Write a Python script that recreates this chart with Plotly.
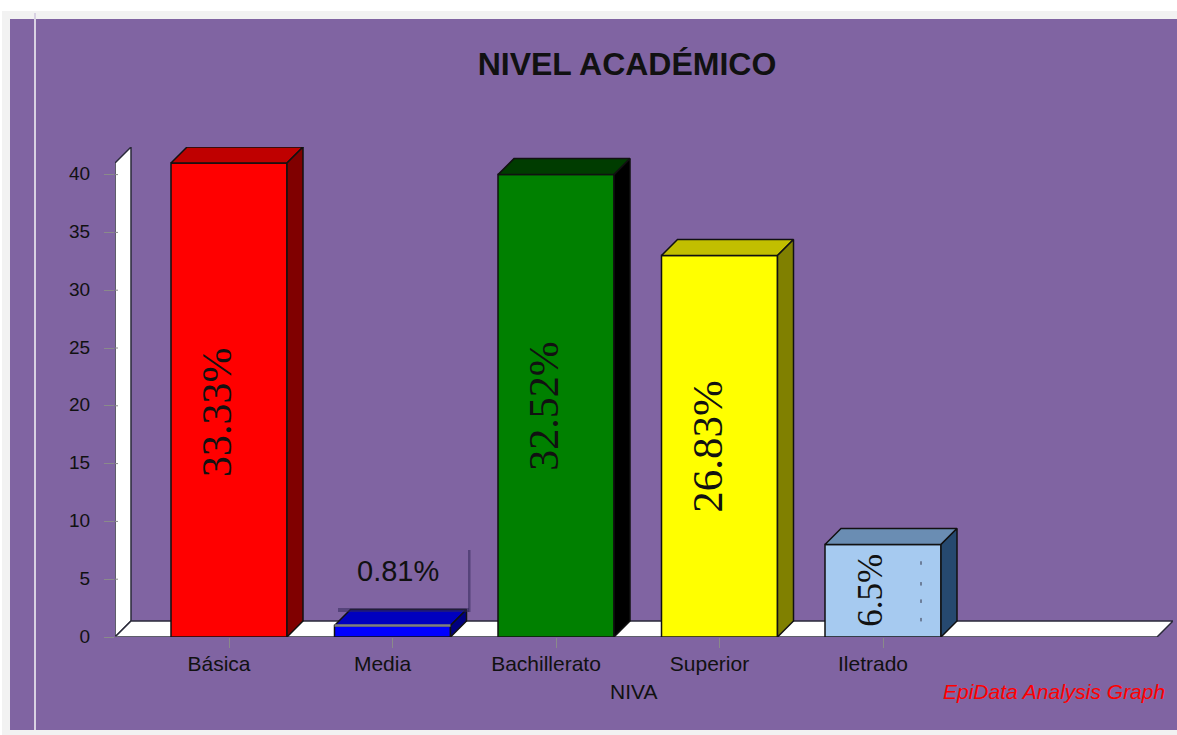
import plotly.graph_objects as go

# ---- data ----
categories = ["Básica", "Media", "Bachillerato", "Superior", "Iletrado"]
counts = [41, 1, 40, 33, 8]
percent_labels = ["33.33%", "0.81%", "32.52%", "26.83%", "6.5%"]
label_sizes = [42, 29, 42, 43, 35]
front_colors = ["#ff0000", "#0000ff", "#008000", "#ffff00", "#a6caf0"]
top_colors = ["#bf0000", "#0000bf", "#003c00", "#c2bf00", "#6a8db3"]
side_colors = ["#800000", "#000080", "#000000", "#808000", "#26496f"]
y_ticks = [0, 5, 10, 15, 20, 25, 30, 35, 40]
stray_mark_levels = [1.5, 3.1, 4.6, 6.4]

# ---- page geometry (pixels) ----
W, H = 1177, 735
L, R, T, B = 115, 1173, 147, 637       # plot area
STEP = 163.5                           # px per category
X0_PX = 229                            # px of first category
UNIT = 11.56                           # px per y unit
DEPTH = 16                             # px of 3-D depth
BAR_W = 116 / STEP
DX, DY = DEPTH / STEP, DEPTH / UNIT
XMIN, XMAX = (L - X0_PX) / STEP, (R - X0_PX) / STEP
YMAX = (B - T) / UNIT
WALL_TOP = 41
LINE = dict(color="#111111", width=1.5)
xs = list(range(len(categories)))


def px(x):
    return x / (R - L) - L / (R - L)


def py(y):
    return (B - y) / (B - T)


def rect(x0, y0, x1, y1, color):
    return dict(type="rect", xref="paper", yref="paper", layer="below",
                x0=px(x0), x1=px(x1), y0=py(y0), y1=py(y1),
                fillcolor=color, line_width=0)


def poly(points):
    return "M" + " L".join(f"{a},{b}" for a, b in points) + " Z"


shapes = [
    rect(2, 11, W, H, "#f2f2f2"),
    rect(10, 19, W, 730, "#8064a2"),
    rect(34, 13, 36, 730, "#d9d2e3"),
]
# white back wall strip and floor of the 3-D box
shapes.append(dict(type="path", xref="x", yref="y", layer="below",
                   path=poly([(XMIN, 0), (XMIN, WALL_TOP), (XMIN + DX, WALL_TOP + DY), (XMIN + DX, DY)]),
                   fillcolor="white", line=dict(color="#2a2a3a", width=1.5)))
shapes.append(dict(type="path", xref="x", yref="y", layer="below",
                   path=poly([(XMIN, 0), (XMIN + DX, DY), (XMAX, DY), (XMAX - DX, 0)]),
                   fillcolor="white", line=dict(color="#2a2a3a", width=1.5)))
# tick marks continue slightly over the wall
for t in y_ticks:
    shapes.append(dict(type="line", xref="paper", yref="y", layer="above",
                       x0=px(115), x1=px(118), y0=t, y1=t,
                       line=dict(color="#8a8a8a", width=1)))
# faint artefact next to the Media bar
shapes.append(rect(338, 608, 469, 612, "rgba(50,40,90,0.55)") | {"layer": "above"})
shapes.append(rect(468, 550, 470.5, 612, "rgba(50,40,90,0.55)") | {"layer": "above"})

fig = go.Figure()

# front faces
fig.add_trace(go.Bar(x=xs, y=counts, width=BAR_W, marker=dict(color=front_colors, line=LINE),
                     showlegend=False, hoverinfo="skip"))

# top and side faces
for i, v in enumerate(counts):
    a, b = i - BAR_W / 2, i + BAR_W / 2
    fig.add_trace(go.Scatter(x=[a, a + DX, b + DX, b, a], y=[v, v + DY, v + DY, v, v],
                             fill="toself", fillcolor=top_colors[i], mode="lines", line=LINE,
                             showlegend=False, hoverinfo="skip"))
    fig.add_trace(go.Scatter(x=[b, b + DX, b + DX, b, b], y=[0, DY, v + DY, v, 0],
                             fill="toself", fillcolor=side_colors[i], mode="lines", line=LINE,
                             showlegend=False, hoverinfo="skip"))

# grey highlight on top of the Media bar
fig.add_trace(go.Scatter(x=[1 - BAR_W / 2, 1 + BAR_W / 2], y=[counts[1], counts[1]], mode="lines",
                         line=dict(color="#808080", width=2.5), showlegend=False, hoverinfo="skip"))
# stray specks in the Iletrado bar
fig.add_trace(go.Scatter(x=[4 + 38 / STEP] * len(stray_mark_levels), y=stray_mark_levels, mode="markers",
                         marker=dict(color="#333344", size=2.5, symbol="line-ns", line=dict(color="#333344", width=1)),
                         showlegend=False, hoverinfo="skip"))

annotations = []
for i, (v, txt, sz) in enumerate(zip(counts, percent_labels, label_sizes)):
    if i == 1:
        annotations.append(dict(x=i, y=v, text=txt, showarrow=False, xshift=5, yshift=54,
                                font=dict(family="Liberation Sans", size=sz, color="#111111")))
    else:
        annotations.append(dict(x=i, y=v / 2, text=txt, showarrow=False, textangle=-90, xshift=-12,
                                yshift=-12 if i == 0 else 0,
                                font=dict(family="Liberation Serif", size=sz, color="#111111")))
annotations.append(dict(xref="paper", yref="paper", x=px(633), y=py(691), yanchor="middle", text="NIVA",
                        showarrow=False, font=dict(family="Liberation Sans", size=21, color="#111111")))
annotations.append(dict(xref="paper", yref="paper", x=px(1167), y=py(691), xanchor="right", yanchor="middle",
                        text="<i>EpiData Analysis Graph</i>", showarrow=False,
                        font=dict(family="Liberation Sans", size=21, color="#ff0000")))

fig.update_layout(
    width=W, height=H, autosize=False,
    margin=dict(l=L, r=W - R, t=T, b=H - B, pad=0),
    paper_bgcolor="white", plot_bgcolor="rgba(0,0,0,0)",
    showlegend=False, shapes=shapes, annotations=annotations,
    title=dict(text="<b>NIVEL ACADÉMICO</b>", x=627 / W, xanchor="center", y=1 - 64 / H, yanchor="middle",
               font=dict(family="Liberation Sans", size=32, color="#111111")),
    xaxis=dict(range=[XMIN, XMAX], tickmode="array", tickvals=xs, ticktext=categories,
               ticks="outside", ticklen=10, tickcolor="#8a8a8a", showgrid=False, zeroline=False,
               showline=False, ticklabelshift=-10, ticklabelstandoff=-2,
               tickfont=dict(family="Liberation Sans", size=21, color="#111111")),
    yaxis=dict(range=[0, YMAX], tickmode="array", tickvals=y_ticks, ticks="outside", ticklen=10,
               tickcolor="#8a8a8a", showgrid=False, zeroline=False, showline=False,
               ticklabelstandoff=10, ticklabelshift=-1,
               tickfont=dict(family="Liberation Sans", size=19, color="#111111")),
)

fig.write_html("out.html", config={"displayModeBar": False},
               post_script="document.body.style.margin='0';document.body.style.overflow='hidden';")
